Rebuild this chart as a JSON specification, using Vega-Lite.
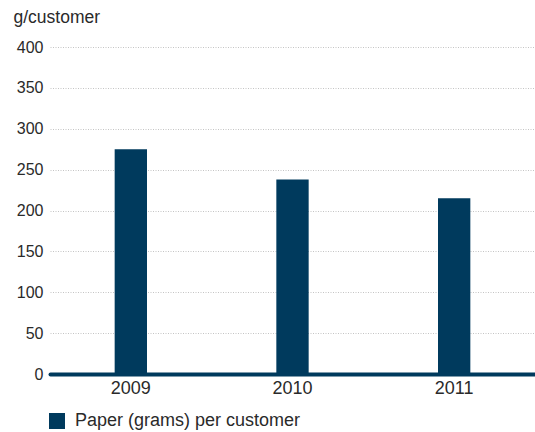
{
  "$schema": "https://vega.github.io/schema/vega-lite/v6.json",
  "width": 485,
  "height": 327,
  "autosize": {"type": "none"},
  "padding": {"left": 50, "top": 47, "right": 0, "bottom": 58},
  "background": "white",
  "config": {
    "view": {"stroke": null},
    "font": "Liberation Sans",
    "axis": {"labelFont": "Liberation Sans", "titleFont": "Liberation Sans"}
  },
  "data": {
    "values": [
      {"year": "2009", "value": 275, "series": "Paper (grams) per customer"},
      {"year": "2010", "value": 238, "series": "Paper (grams) per customer"},
      {"year": "2011", "value": 215, "series": "Paper (grams) per customer"}
    ]
  },
  "mark": {"type": "bar"},
  "encoding": {
    "x": {
      "field": "year",
      "type": "nominal",
      "scale": {"paddingInner": 0.8, "paddingOuter": 0.4},
      "axis": {
        "title": null,
        "labelAngle": 0,
        "labelFontSize": 18,
        "labelColor": "#2a2a2a",
        "labelPadding": 5,
        "ticks": false,
        "domainColor": "#003a5d",
        "domainWidth": 4,
        "domainCap": "round",
        "grid": false
      }
    },
    "y": {
      "field": "value",
      "type": "quantitative",
      "scale": {"domain": [0, 400]},
      "axis": {
        "title": "g/customer",
        "titleAngle": 0,
        "titleAlign": "left",
        "titleBaseline": "alphabetic",
        "titleX": -37,
        "titleY": -25,
        "titleFontSize": 17.5,
        "titleFontWeight": "normal",
        "titleColor": "#2a2a2a",
        "values": [0, 50, 100, 150, 200, 250, 300, 350, 400],
        "labelFontSize": 16,
        "labelColor": "#2a2a2a",
        "labelPadding": 7,
        "ticks": false,
        "domain": false,
        "grid": true,
        "gridColor": "#b5b5b5",
        "gridDash": [1, 1.5],
        "gridWidth": 0.8
      }
    },
    "color": {
      "field": "series",
      "type": "nominal",
      "scale": {"range": ["#003a5d"]},
      "legend": {
        "title": null,
        "orient": "none",
        "legendX": -2,
        "legendY": 365,
        "symbolType": "square",
        "symbolSize": 256,
        "symbolStrokeWidth": 0,
        "labelFontSize": 18,
        "labelLimit": 0,
        "labelOffset": 9,
        "labelColor": "#2a2a2a",
        "labelFont": "Liberation Sans"
      }
    }
  }
}
